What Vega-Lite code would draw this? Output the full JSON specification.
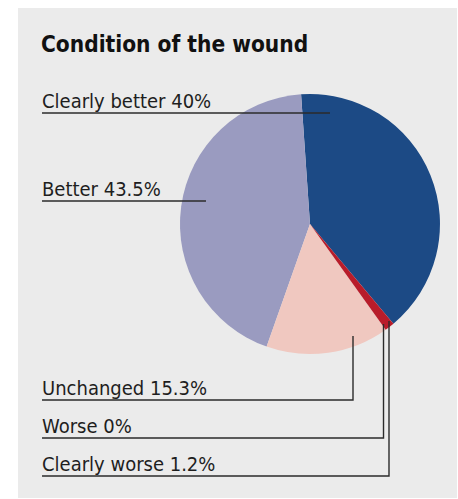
{
  "$schema": "https://vega.github.io/schema/vega-lite/v6.json",
  "width": 439,
  "height": 490,
  "autosize": {"type": "none"},
  "padding": {"left": 18, "top": 8, "right": 1, "bottom": 1},
  "background": "#ffffff",
  "config": {
    "view": {"fill": "#ebebeb", "stroke": null},
    "text": {"font": "DejaVu Sans Condensed"}
  },
  "title": {
    "text": "Condition of the wound",
    "anchor": "start",
    "frame": "group",
    "orient": "top",
    "dx": 23,
    "offset": -48.7,
    "font": "DejaVu Sans Condensed",
    "fontSize": 22.5,
    "fontWeight": "bold",
    "color": "#111111"
  },
  "datasets": {
    "wound": [
      {"idx": 1, "condition": "Clearly better", "share": 40},
      {"idx": 2, "condition": "Better", "share": 43.5},
      {"idx": 3, "condition": "Unchanged", "share": 15.3},
      {"idx": 4, "condition": "Worse", "share": 0},
      {"idx": 5, "condition": "Clearly worse", "share": 1.2}
    ],
    "leaders": [
      {"condition": "Clearly better", "step": 0, "gx": 5.47, "gy": 21.43},
      {"condition": "Clearly better", "step": 1, "gx": 71.07, "gy": 21.43},
      {"condition": "Better", "step": 0, "gx": 5.47, "gy": 39.39},
      {"condition": "Better", "step": 1, "gx": 42.82, "gy": 39.39},
      {"condition": "Unchanged", "step": 0, "gx": 5.47, "gy": 80.0},
      {"condition": "Unchanged", "step": 1, "gx": 76.31, "gy": 80.0},
      {"condition": "Unchanged", "step": 2, "gx": 76.31, "gy": 66.94},
      {"condition": "Worse", "step": 0, "gx": 5.47, "gy": 87.76},
      {"condition": "Worse", "step": 1, "gx": 83.26, "gy": 87.76},
      {"condition": "Worse", "step": 2, "gx": 83.26, "gy": 64.49},
      {"condition": "Clearly worse", "step": 0, "gx": 5.47, "gy": 95.51},
      {"condition": "Clearly worse", "step": 1, "gx": 84.51, "gy": 95.51},
      {"condition": "Clearly worse", "step": 2, "gx": 84.51, "gy": 63.88}
    ]
  },
  "layer": [
    {
      "data": {"name": "wound"},
      "mark": {"type": "arc", "outerRadius": 130},
      "encoding": {
        "x": {"datum": 66.51, "type": "quantitative", "scale": {"domain": [0, 100], "nice": false, "zero": false}, "axis": null},
        "y": {"datum": 44.08, "type": "quantitative", "scale": {"domain": [0, 100], "nice": false, "zero": false, "reverse": true}, "axis": null},
        "theta": {"field": "share", "type": "quantitative", "stack": true, "scale": {"range": [2.4447, -3.8385]}},
        "order": {"field": "idx", "type": "quantitative"},
        "color": {
          "field": "condition",
          "type": "nominal",
          "legend": null,
          "scale": {
            "domain": ["Clearly better", "Better", "Unchanged", "Worse", "Clearly worse"],
            "range": ["#1c4a85", "#9a9bc0", "#f0c8c0", "#d9737a", "#b81c2a"]
          }
        }
      }
    },
    {
      "data": {"name": "leaders"},
      "mark": {"type": "line", "stroke": "#2b2b2b", "strokeWidth": 1.4, "interpolate": "linear"},
      "encoding": {
        "x": {"field": "gx", "type": "quantitative"},
        "y": {"field": "gy", "type": "quantitative"},
        "detail": {"field": "condition", "type": "nominal"},
        "order": {"field": "step", "type": "quantitative"}
      }
    },
    {
      "data": {"name": "leaders"},
      "transform": [
        {"filter": "datum.step === 0"},
        {"lookup": "condition", "from": {"data": {"name": "wound"}, "key": "condition", "fields": ["share"]}},
        {"calculate": "datum.condition + ' ' + datum.share + '%'", "as": "label"}
      ],
      "mark": {"type": "text", "align": "left", "baseline": "alphabetic", "dy": -5, "fontSize": 20, "color": "#1e1e1e"},
      "encoding": {
        "x": {"field": "gx", "type": "quantitative"},
        "y": {"field": "gy", "type": "quantitative"},
        "text": {"field": "label", "type": "nominal"}
      }
    }
  ]
}
